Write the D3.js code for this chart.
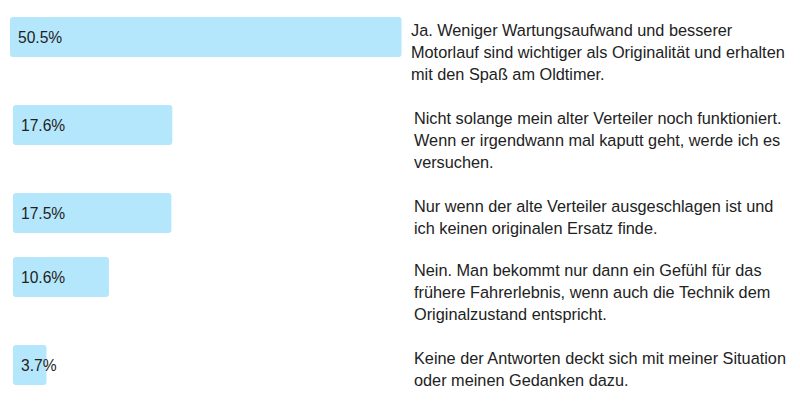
<!DOCTYPE html>
<html>
<head>
<meta charset="utf-8">
<script src="https://cdn.jsdelivr.net/npm/d3@7"></script>
<style>
  body { margin: 0; background: #fff; }
  svg { display: block; font-family: "Liberation Sans", Arial, sans-serif; }
</style>
</head>
<body>
<svg id="chart" width="800" height="407"></svg>
<script>
// survey answers, percentages and the answer texts (as wrapped in the picture)
var shares = [50.5, 17.6, 17.5, 10.6, 3.7];
var shareLabels = ["50.5%", "17.6%", "17.5%", "10.6%", "3.7%"];
var answers = [
    ["Ja. Weniger Wartungsaufwand und besserer", "Motorlauf sind wichtiger als Originalität und erhalten", "mit den Spaß am Oldtimer."],
    ["Nicht solange mein alter Verteiler noch funktioniert.", "Wenn er irgendwann mal kaputt geht, werde ich es", "versuchen."],
    ["Nur wenn der alte Verteiler ausgeschlagen ist und", "ich keinen originalen Ersatz finde."],
    ["Nein. Man bekommt nur dann ein Gefühl für das", "frühere Fahrerlebnis, wenn auch die Technik dem", "Originalzustand entspricht."],
    ["Keine der Antworten deckt sich mit meiner Situation", "oder meinen Gedanken dazu."]
];

var barColor = "#b5e7fc";
var textColor = "#222";
var barH = 40;
var lineH = 22;
var labelSize = 15.6;
var fontSize = 16.3;
var colMax = 391.5;   // widest a bar may get before it pushes the text column

var $svg = d3.select("#chart");

var x = d3.scaleLinear().domain([0, 100]).range([0, 905]);

// row tops: each row takes its text height plus a gap
var tops = [];
var yAcc = 17;
answers.forEach(function(lines){
    tops.push(yAcc);
    yAcc += lines.length * 24 + 16;
});

var rows = $svg.selectAll("g.row")
    .data(shares)
    .join("g")
    .attr("class", "row")
    .attr("transform", (d, i) => `translate(0 ${tops[i]})`);

rows.each(function(d, i){
    let $row = d3.select(this);
    let w = x(d);
    let capped = w > colMax;
    // a full bar nudges its row 3px to the left
    let left = capped ? 10 : 13;
    w = Math.min(w, colMax);

    $row.append("rect")
        .attr("x", left)
        .attr("y", 0)
        .attr("width", w)
        .attr("height", barH)
        .attr("rx", 3)
        .attr("fill", barColor);

    $row.append("text")
        .attr("x", left + 8)
        .attr("y", barH / 2)
        .attr("dy", "0.36em")
        .attr("fill", textColor)
        .attr("font-size", labelSize)
        .text(shareLabels[i]);

    let $t = $row.append("text")
        .attr("x", left + 401)
        .attr("y", 19)
        .attr("fill", textColor)
        .attr("font-size", fontSize);
    $t.selectAll("tspan")
        .data(answers[i])
        .join("tspan")
        .attr("x", left + 401)
        .attr("dy", (l, j) => j == 0 ? 0 : lineH)
        .text(l => l);
});
</script>
</body>
</html>
